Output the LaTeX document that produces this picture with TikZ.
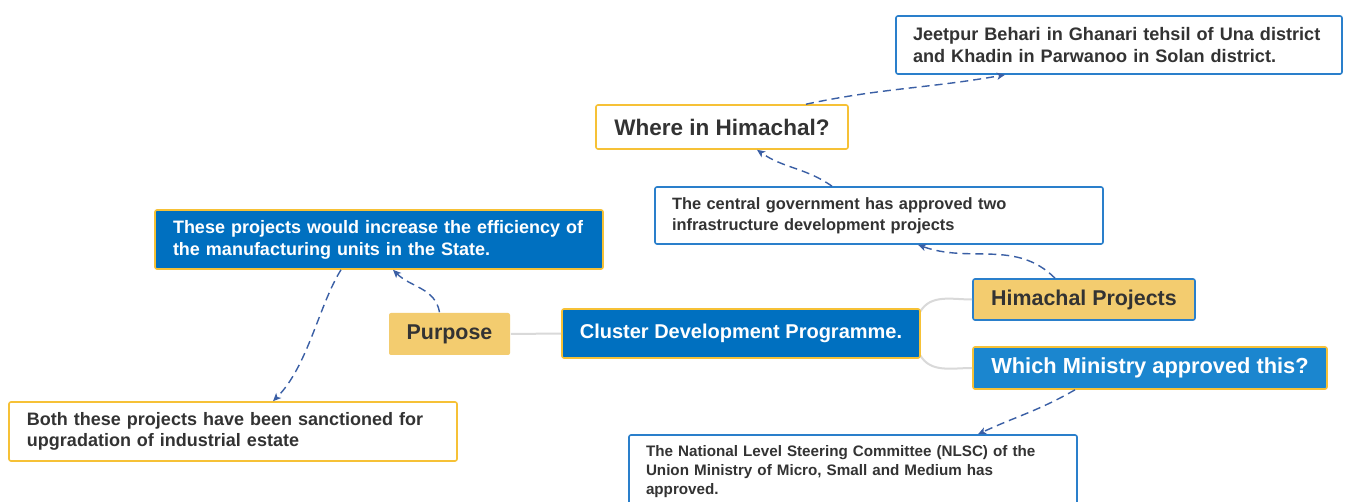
\documentclass[tikz,border=0pt]{standalone}
\usepackage{fontspec}
\setmainfont{Liberation Sans}
\usetikzlibrary{arrows.meta}
\definecolor{bluedark}{HTML}{0070C0}
\definecolor{bluelight}{HTML}{1B86CF}
\definecolor{yfill}{HTML}{F3CC6F}
\definecolor{yborder}{HTML}{F6C136}
\definecolor{bborder}{HTML}{2A7FCB}
\definecolor{graycon}{HTML}{D9D9D9}
\definecolor{txtdark}{HTML}{333333}
\definecolor{dashcol}{HTML}{3A5FA5}
\tikzset{
  basebox/.style={rounded corners=2pt, line width=1.6pt, inner sep=0pt, font=\bfseries},
  headbox/.style={basebox, align=center},
  notebox/.style={basebox, align=left, inner xsep=17pt, fill=white, text=txtdark},
  dashar/.style={dashcol, line width=1.4pt, dash pattern=on 8pt off 5pt, -{Stealth[length=8pt,width=7pt,inset=2pt]}},
  graylink/.style={graycon, line width=2pt},
}
\begin{document}
\begin{tikzpicture}[x=1pt,y=1pt]
\clip (0,0) rectangle (1346,-502);
\useasboundingbox (0,0) rectangle (1346,-502);
\fill[white] (0,0) rectangle (1346,-502);

% nodes
\node[headbox, fill=yfill, draw=none, text=txtdark, minimum width=121pt, minimum height=42pt,
  font=\bfseries\fontsize{21.4}{24}\selectfont] (pur) at (449.5,-334) {\raisebox{-2pt}{Purpose}};
\node[headbox, fill=yfill, draw=bborder, text=txtdark, minimum width=222pt, minimum height=41pt,
  font=\bfseries\fontsize{21.4}{24}\selectfont] (hp) at (1084,-299.5) {\raisebox{-1.5pt}{Himachal Projects}};
\node[headbox, fill=bluelight, draw=yborder, text=white, minimum width=354pt, minimum height=42pt,
  font=\bfseries\fontsize{21.8}{24}\selectfont] (wm) at (1150,-368) {\raisebox{-1.5pt}{Which Ministry approved this?}};
\coordinate (cluNE) at (920,-312);
\coordinate (cluSE) at (920,-355);
\draw[graylink] (cluNE) to[out=60,in=180] (hp.west);
\draw[graylink] (cluSE) to[out=-60,in=180] (wm.west);
\node[headbox, fill=bluedark, draw=yborder, text=white, minimum width=358pt, minimum height=49pt,
  font=\bfseries\fontsize{20}{24}\selectfont] (clu) at (741,-333.5) {\raisebox{-1pt}{Cluster Development Programme.}};
\draw[graylink] (pur.east) -- (clu.west);
\node[headbox, fill=white, draw=yborder, text=txtdark, minimum width=252pt, minimum height=44pt,
  font=\bfseries\fontsize{22.5}{26}\selectfont] (where) at (722,-127) {\raisebox{-1pt}{Where in Himachal?}};

\node[notebox, draw=bborder, text width=412pt, minimum height=58pt,
  font=\bfseries\fontsize{18.1}{21.5}\selectfont] (jeet) at (1119,-45)
  {Jeetpur Behari in Ghanari tehsil of Una district\\and Khadin in Parwanoo in Solan district.};
\node[notebox, draw=bborder, text width=414pt, minimum height=57pt,
  font=\bfseries\fontsize{16.4}{21}\selectfont] (cent) at (879,-215.5)
  {The central government has approved two\\infrastructure development projects};
\node[notebox, draw=yborder, fill=bluedark, text=white, text width=412pt, minimum height=59pt, inner xsep=18pt,
  font=\bfseries\fontsize{18}{22}\selectfont] (eff) at (379,-239.5)
  {These projects would increase the efficiency of\\the manufacturing units in the State.};
\node[notebox, draw=yborder, text width=412pt, minimum height=59pt, inner xsep=18pt,
  font=\bfseries\fontsize{18}{21}\selectfont] (both) at (233,-431.5)
  {Both these projects have been sanctioned for\\upgradation of industrial estate};
\node[notebox, draw=bborder, text width=414pt, minimum height=74pt,
  font=\bfseries\fontsize{15.2}{19}\selectfont] (nat) at (853,-472)
  {The National Level Steering Committee (NLSC) of the\\Union Ministry of Micro, Small and Medium has\\approved.};

% dashed arrows
\draw[dashar] ([xshift=-10pt]pur.north) to[out=100,in=-45] ([xshift=14pt]eff.south);
\draw[dashar] ([xshift=-38pt]eff.south) .. controls +(-22,-35) and +(35,35) .. ([xshift=40pt]both.north);
\draw[dashar] ([xshift=-29pt]hp.north) to[out=135,in=-20] ([xshift=39pt]cent.south);
\draw[dashar] ([xshift=-47pt]cent.north) to[out=145,in=-35] ([xshift=35pt]where.south);
\draw[dashar] ([xshift=84pt]where.north) to[out=12,in=-170] ([xshift=-114pt]jeet.south);
\draw[dashar] ([xshift=-75pt]wm.south) to[out=-150,in=25] ([xshift=125pt]nat.north);
\end{tikzpicture}
\end{document}
